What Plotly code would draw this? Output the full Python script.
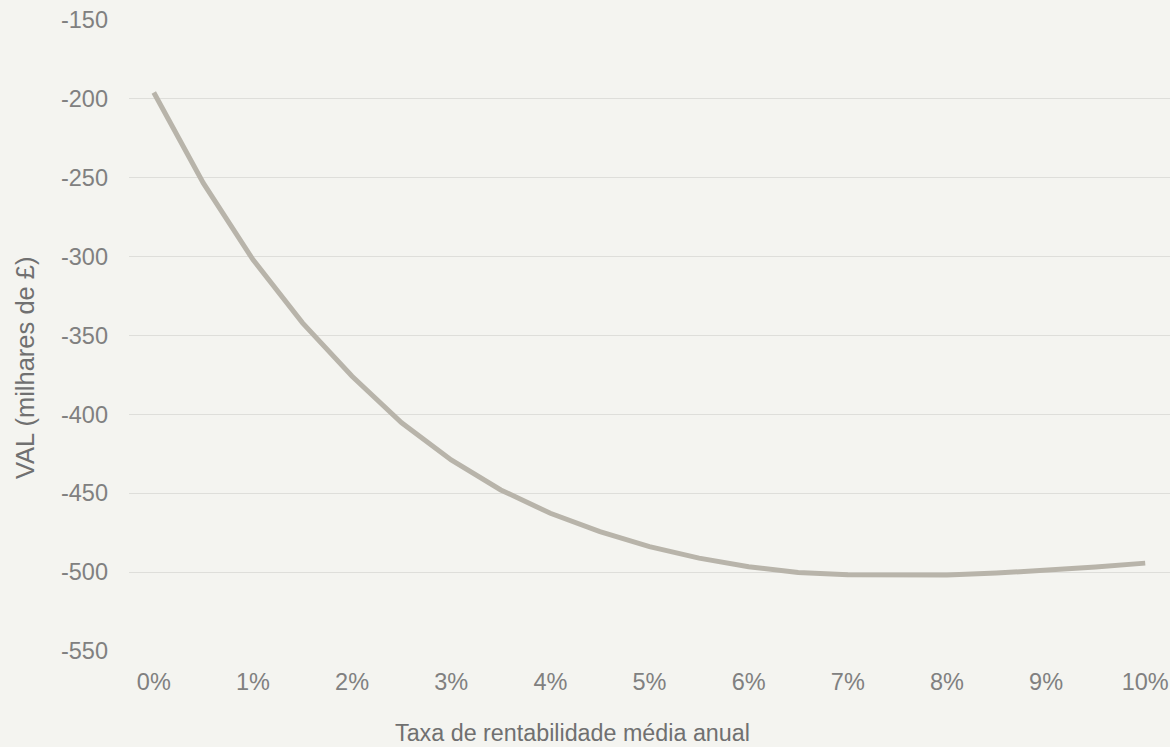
import plotly.graph_objects as go

# Annual average rate of return (%) and resulting NPV (thousands of £)
taxa = [0, 0.5, 1, 1.5, 2, 2.5, 3, 3.5, 4, 4.5, 5, 5.5, 6, 6.5, 7, 7.5, 8, 8.5, 9, 9.5, 10]
val = [-196.0, -253.4, -301.9, -342.0, -375.8, -405.3, -428.9, -447.9, -462.7, -474.3,
       -483.8, -491.1, -496.6, -500.2, -501.7, -502.1, -501.9, -500.6, -498.9, -496.8, -494.3]

x_ticks = [0, 1, 2, 3, 4, 5, 6, 7, 8, 9, 10]
x_tick_labels = ["0%", "1%", "2%", "3%", "4%", "5%", "6%", "7%", "8%", "9%", "10%"]
y_ticks = [-550, -500, -450, -400, -350, -300, -250, -200, -150]
y_tick_labels = ["-550", "-500", "-450", "-400", "-350", "-300", "-250", "-200", "-150"]

x_title = "Taxa de rentabilidade média anual"
y_title = "VAL (milhares de £)"

BG = "#F4F4F0"
GRID = "#DEDEDA"
LINE = "#B8B4AA"
TICK = "#808080"
TITLE = "#707070"
FONT = "Liberation Sans, Arial, sans-serif"

fig = go.Figure(
    go.Scatter(
        x=taxa,
        y=val,
        mode="lines",
        line=dict(color=LINE, width=5),
        hoverinfo="x+y",
    )
)

fig.update_layout(
    width=1170,
    height=747,
    margin=dict(l=129, r=0, t=20, b=96),
    paper_bgcolor=BG,
    plot_bgcolor=BG,
    showlegend=False,
    font=dict(family=FONT, color=TICK),
)

fig.update_xaxes(
    range=[-0.25, 10.25],
    tickvals=x_ticks,
    ticktext=x_tick_labels,
    showgrid=False,
    zeroline=False,
    showline=False,
    ticks="",
    ticklabelstandoff=14,
    tickfont=dict(size=23.5, color=TICK, family=FONT),
)

fig.update_yaxes(
    range=[-550, -150],
    tickvals=y_ticks,
    ticktext=y_tick_labels,
    showgrid=True,
    gridcolor=GRID,
    gridwidth=1.3,
    zeroline=False,
    showline=False,
    ticks="",
    ticklabelstandoff=20,
    tickfont=dict(size=23.5, color=TICK, family=FONT),
)

# Axis titles placed as free text
fig.add_annotation(
    text=x_title, xref="paper", yref="paper",
    x=(572 - 129) / 1041, y=-(733 - 651) / 631,
    xanchor="center", yanchor="middle", showarrow=False,
    font=dict(size=23.3, color=TITLE, family=FONT),
)
fig.add_annotation(
    text=y_title, xref="paper", yref="paper",
    x=-(129 - 25) / 1041, y=(651 - 368) / 631,
    xanchor="center", yanchor="middle", textangle=-90, showarrow=False,
    font=dict(size=25.5, color=TITLE, family=FONT),
)

fig.write_html("out.html")
